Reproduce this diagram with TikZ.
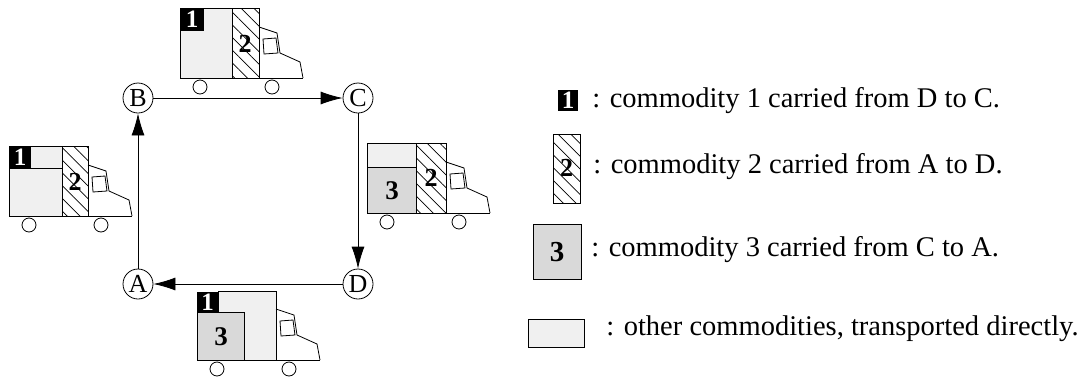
\documentclass[tikz,border=0pt]{standalone}
\usepackage{fontspec}
\setmainfont{Liberation Serif}
\usetikzlibrary{arrows.meta,patterns.meta}
\tikzset{>={Latex[width=13pt,length=22pt]}}
% cab, floor and wheels of a lorry; the cargo is drawn on its own
\tikzset{
  lorry/.pic={
    \draw (79,19) -- (97,25) -- (100,45) -- (120,54) -- (123,70);
    \draw (0,70) -- (123,70);
    \draw (83,31) -- (96,30) -- (98,45) -- (84,46) -- cycle;
    \draw (20,79) circle[radius=7pt] (92,79) circle[radius=7pt];
  }
}

\begin{document}
\begin{tikzpicture}[x=1pt, y=-1pt, line width=0.8pt,
    city/.style = {draw, circle, minimum size=30pt, inner sep=0pt, font=\fontsize{26}{26}\selectfont},
    other/.style = {draw, fill=gray!12},
    good3/.style = {draw, fill=gray!30},
    good2/.style = {draw, fill=white, postaction={pattern={Lines[angle=-45, distance=9pt, line width=0.7pt]}}},
    tile/.style = {fill=black, text=white, inner sep=0pt, font=\bfseries\fontsize{25}{25}\selectfont},
    num/.style = {inner sep=0pt, font=\bfseries\fontsize{26}{26}\selectfont},
    legend/.style = {anchor=base west, inner sep=0pt, font=\fontsize{28.5}{28.5}\selectfont}]
    \useasboundingbox (0,0) rectangle (1081,378);

    % the four cities and the tour
    \node (B) [city] at (138,98) {B};
    \node (C) [city] at (358,98) {C};
    \node (D) [city] at (358,284) {D};
    \node (A) [city] at (138,284) {A};
    \path[->]
    (B) edge (C)
    (C) edge (D)
    (D) edge (A)
    (A) edge (B);

    % lorry B -> C
    \draw[other] (180,8) rectangle (232,78);
    \node (t1bc) [tile, minimum width=24pt, minimum height=23pt] at (192,19.5) {1};
    \draw[good2] (232,8) rectangle (259,78);
    \node (n2bc) [num] at (245,44) {2};
    \pic at (180,8) {lorry};

    % lorry A -> B
    \draw[other] (9,146) rectangle (62,168);
    \draw[other] (9,168) rectangle (62,216);
    \node (t1ab) [tile, minimum width=22pt, minimum height=22pt] at (20,157) {1};
    \draw[good2] (62,146) rectangle (88,216);
    \node (n2ab) [num] at (75,182) {2};
    \pic at (9,146) {lorry};

    % lorry C -> D
    \draw[other] (367,143) rectangle (416,167);
    \draw[good3] (367,167) rectangle (416,213);
    \node (n3cd) [num, font=\bfseries\fontsize{27}{27}\selectfont] at (392,191) {3};
    \draw[good2] (416,143) rectangle (446,213);
    \node (n2cd) [num] at (431,178) {2};
    \pic at (367,143) {lorry};

    % lorry D -> A
    \draw[other] (218,291) rectangle (276,360);
    \node (t1da) [tile, minimum width=21pt, minimum height=20pt] at (207.5,302) {1};
    \draw[good3] (197,312) rectangle (244,360);
    \node (n3da) [num, font=\bfseries\fontsize{27}{27}\selectfont] at (221,337) {3};
    \pic at (197,290) {lorry};

    % legend
    \node (k1) [tile, minimum width=20pt, minimum height=21pt] at (568,100.5) {1};
    \node (l1) [legend] at (592,107) {: commodity 1 carried from D to C.};
    \draw[good2] (553,134) rectangle (580,203);
    \node (k2) [num] at (566.5,168) {2};
    \node (l2) [legend] at (593,173) {: commodity 2 carried from A to D.};
    \draw[good3] (533,224) rectangle (581,279);
    \node (k3) [num, font=\bfseries\fontsize{29}{29}\selectfont] at (557,252) {3};
    \node (l3) [legend] at (591,256) {: commodity 3 carried from C to A.};
    \draw[other] (528,319) rectangle (584,347);
    \node (l4) [legend] at (606,335) {: other commodities, transported directly.};
\end{tikzpicture}
\end{document}
